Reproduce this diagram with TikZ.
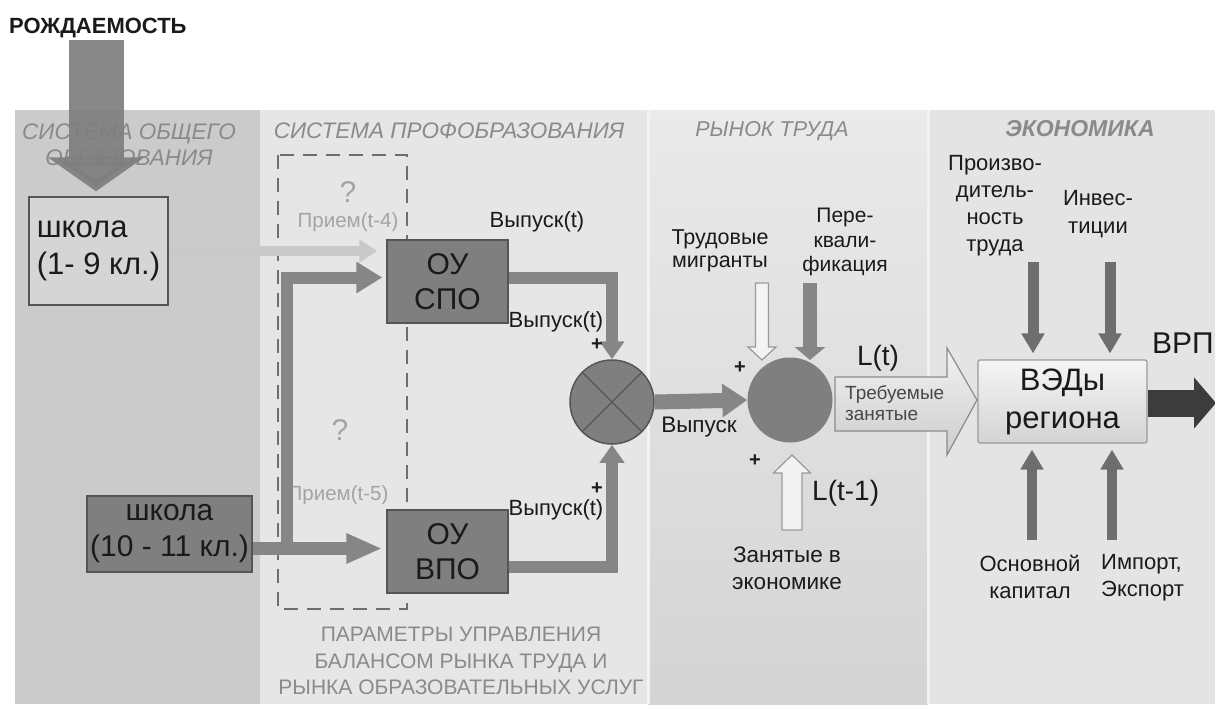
\documentclass[tikz,border=0pt]{standalone}
\usepackage{fontspec}
\setmainfont{Liberation Sans}
\usetikzlibrary{arrows.meta,calc}
\definecolor{bgone}{HTML}{CBCBCB}
\definecolor{bgtwo}{HTML}{E6E6E6}
\definecolor{bgthreetop}{HTML}{EAEAEA}
\definecolor{bgthreebot}{HTML}{D4D4D4}
\definecolor{bgfour}{HTML}{E4E4E4}
\definecolor{sepcol}{HTML}{F2F2F2}
\definecolor{ttlgray}{HTML}{8A8A8A}
\definecolor{qgray}{HTML}{A4A4A4}
\definecolor{midgray}{HTML}{868686}
\definecolor{boxgray}{HTML}{7F7F7F}
\definecolor{edgegray}{HTML}{555555}
\definecolor{lightarr}{HTML}{C9C9C9}
\definecolor{vedarr}{HTML}{6E6E6E}
\definecolor{dkarr}{HTML}{3C3C3C}
\definecolor{txt}{HTML}{1A1A1A}
\definecolor{hollowfill}{HTML}{F3F3F3}
\definecolor{hollowedge}{HTML}{9A9A9A}
\newcommand{\myfs}[2]{\fontsize{#1}{#2}\selectfont}
\begin{document}
\begin{tikzpicture}[x=1pt,y=-1pt,
  paneltitle/.style={font=\myfs{22.5}{26}\itshape, text=ttlgray, align=center, inner sep=0pt},
  lbl/.style={font=\myfs{21}{25}, text=txt, align=center, inner sep=0pt},
  smalllbl/.style={font=\myfs{22}{24}, text=txt, align=center, inner sep=0pt},
  qlbl/.style={font=\myfs{20.5}{24}, text=qgray, inner sep=0pt},
  pluslbl/.style={font=\bfseries\myfs{20}{24}, text=txt, inner sep=0pt},
  darkbox/.style={draw=edgegray, line width=1.5pt, fill=boxgray, font=\myfs{30}{35}, text=txt, align=center, inner sep=0pt},
  garrow/.style={draw=midgray, line width=12pt},
  hollow/.style={fill=hollowfill, draw=hollowedge, line width=1.2pt, line join=miter},
  vedin/.style={draw=vedarr, line width=11pt, -{Triangle[length=20pt,width=22pt]}}
]
\useasboundingbox (0,0) rectangle (1215,704);
\fill[white] (0,0) rectangle (1215,704);
% panels
\fill[bgone] (15,110) rectangle (260,704);
\fill[bgtwo] (260,110) rectangle (648,704);
\shade[top color=bgthreetop, bottom color=bgthreebot] (648,110) rectangle (928,704);
\fill[bgfour] (928,110) rectangle (1215,704);
\draw[sepcol, line width=3pt] (648,110) -- (648,704);
\draw[sepcol, line width=3pt] (928,110) -- (928,704);

% panel titles
\node[paneltitle] (t1) at (129,145) {СИСТЕМА ОБЩЕГО\\ОБРАЗОВАНИЯ};
\node[paneltitle] (t2) at (449,131) {СИСТЕМА ПРОФОБРАЗОВАНИЯ};
\node[paneltitle, font=\myfs{21.5}{26}\itshape] (t3) at (772,131) {РЫНОК ТРУДА};
\node[paneltitle, font=\myfs{23}{26}\bfseries\itshape] (t4) at (1080,129) {ЭКОНОМИКА};

% dashed box
\draw[draw=edgegray!85, line width=2.5pt, dash pattern=on 14pt off 9pt] (278,155) rectangle (407,609);
\node[qlbl, font=\myfs{30}{34}] (q1) at (348,192) {?};
\node[qlbl] (p4) at (348,222) {Прием(t-4)};
\node[qlbl, font=\myfs{30}{34}] (q2) at (340,430) {?};
\node[qlbl] (p5) at (338,495) {Прием(t-5)};

% title and birth arrow
\node[font=\bfseries\myfs{22}{24}, text=txt, anchor=west, inner sep=0pt] (rozh) at (9,28) {РОЖДАЕМОСТЬ};
\node[draw=edgegray, line width=1.5pt, fill=bgone!80!white, minimum width=139pt, minimum height=108pt, inner sep=0pt,
      font=\myfs{31}{37}, text=txt, align=left] (school1) at (98.5,251) {школа\\(1- 9 кл.)};
\coordinate (rzs) at (96,40);
\draw[draw=boxgray, opacity=0.93, line width=55pt, -{Triangle[length=34pt,width=95pt]}] (rzs) -- ([xshift=-2.5pt,yshift=5pt]school1.north);

% boxes
\node[darkbox, minimum width=165pt, minimum height=76pt, font=\myfs{30}{36}] (school2) at (169.5,534) {школа\\(10 - 11 кл.)};
\node[darkbox, minimum width=121pt, minimum height=83pt] (spo) at (447.5,281.5) {ОУ\\СПО};
\node[darkbox, minimum width=121pt, minimum height=83pt] (vpo) at (447.5,551.5) {ОУ\\ВПО};
\node[circle, draw=edgegray, line width=1.5pt, fill=boxgray, minimum size=84pt, inner sep=0pt] (x1) at (612,402) {};
\draw[edgegray, line width=1.2pt] (x1.north west) -- (x1.south east) (x1.north east) -- (x1.south west);
\node[circle, fill=boxgray, minimum size=85pt, inner sep=0pt] (c2) at (790,400) {};
\node[draw=hollowedge, line width=1.2pt, rounded corners=2pt, top color=white!96!black, bottom color=white!83!black,
      minimum width=169pt, minimum height=83pt, inner sep=0pt, font=\myfs{31}{38}, text=txt, align=center] (ved) at (1062.5,401.5) {ВЭДы\\региона};

% arrows in education system
\draw[draw=lightarr, line width=10pt, -{Triangle[length=18pt,width=22pt]}] (school1.east) -- ($(school1.east -| spo.west)+(-9,0)$);
\coordinate (lb) at (287,553);
\draw[garrow, -{Triangle[length=26pt,width=30pt]}] (lb) |- ($(spo.west)+(-4,-4)$);
\draw[garrow, line width=13pt, -{Triangle[length=36pt,width=28pt]}] ($(school2.east |- vpo.west)+(0,-3)$) -- ($(vpo.west)+(-4,-3)$);
\draw[garrow, -{Triangle[length=18pt,width=24pt]}] ($(spo.east)+(0,-4)$) -| (x1.north);
\draw[garrow, -{Triangle[length=18pt,width=24pt]}] ($(vpo.east)+(0,15)$) -| (x1.south);
\draw[garrow, line width=15pt, -{Triangle[length=25pt,width=32pt]}] (x1.east) -- (c2.west);

% labour market inputs
\coordinate (migtop) at (762,283);
\coordinate (migtip) at (762,360);
\draw[hollow] ($(migtop)+(-6.5,0)$) -- ($(migtop)+(6.5,0)$) -- ($(migtip)+(6.5,-13)$) -- ($(migtip)+(14,-13)$) -- (migtip)
   -- ($(migtip)+(-14,-13)$) -- ($(migtip)+(-6.5,-13)$) -- cycle;
\coordinate (kvtop) at (810,283);
\coordinate (kvtip) at (810,360);
\draw[garrow, line width=14pt, -{Triangle[length=13pt,width=30pt]}] (kvtop) -- (kvtip);
\coordinate (lbot) at (792,530);
\coordinate (ltip) at (792,455);
\draw[hollow] ($(lbot)+(-10,0)$) -- ($(lbot)+(10,0)$) -- ($(ltip)+(10,18)$) -- ($(ltip)+(18.5,18)$) -- (ltip)
   -- ($(ltip)+(-18.5,18)$) -- ($(ltip)+(-10,18)$) -- cycle;

% required employed arrow
\coordinate (reqt) at (977,400);
\draw[hollow, draw=hollowedge!90!black, top color=white!95!black, bottom color=white!80!black]
  (835,377) -- (947,377) -- (947,348) -- (reqt) -- (947,455) -- (947,431) -- (835,431) -- cycle;
\node[font=\myfs{19}{21}, text=txt!80, align=left, anchor=west, inner sep=0pt] (req) at (845,403) {Требуемые\\занятые};

% economy arrows
\coordinate (pt) at (1033,262);
\draw[vedin] (pt) -- ([yshift=6pt]ved.north -| pt);
\coordinate (it) at (1110,262);
\draw[vedin] (it) -- ([yshift=6pt]ved.north -| it);
\coordinate (kb) at (1032,540);
\draw[vedin, line width=10pt] (kb) -- ([yshift=-6pt]ved.south -| kb);
\coordinate (ib) at (1112,540);
\draw[vedin, line width=10pt] (ib) -- ([yshift=-6pt]ved.south -| ib);
\coordinate (vrpend) at (1216,403);
\draw[draw=dkarr, line width=27pt, -{Triangle[length=22pt,width=50pt]}] (ved.east |- vrpend) -- (vrpend);

% labels
\node[smalllbl] (v1) at (537,222) {Выпуск(t)};
\node[smalllbl] (v2) at (556,322) {Выпуск(t)};
\node[smalllbl] (v3) at (556,510) {Выпуск(t)};
\node[pluslbl] (pl1) at (597,345) {+};
\node[pluslbl] (pl2) at (597,489) {+};
\node[smalllbl, font=\myfs{22.5}{24}] (v4) at (699,427) {Выпуск};
\node[pluslbl] (pl3) at (740,368) {+};
\node[pluslbl] (pl4) at (755,461) {+};
\node[lbl, font=\myfs{21.5}{23}] (mig) at (720,251) {Трудовые\\мигранты};
\node[lbl, font=\myfs{21}{24.5}] (kv) at (845,242) {Пере-\\квали-\\фикация};
\node[font=\myfs{28}{32}, text=txt, inner sep=0pt] (lt) at (878,358) {L(t)};
\node[font=\myfs{28}{32}, text=txt, inner sep=0pt, anchor=west] (lt1) at (812,493) {L(t-1)};
\node[lbl, font=\myfs{22.5}{27}] (zan) at (787,568) {Занятые в\\экономике};
\node[lbl, font=\myfs{22}{27}] (prod) at (995,206) {Произво-\\дитель-\\ность\\труда};
\node[lbl, font=\myfs{22}{28}] (inv) at (1098,214) {Инвес-\\тиции};
\node[lbl, font=\myfs{22}{27}] (osn) at (1030,577) {Основной\\капитал};
\node[lbl, font=\myfs{22}{27}, align=left, anchor=west] (imp) at (1101,578) {Импорт,\\Экспорт};
\node[font=\myfs{30}{32}, text=txt, inner sep=0pt, anchor=west] (vrp) at (1152,343) {ВРП};
\node[font=\myfs{21}{26.5}, text=ttlgray, align=center, inner sep=0pt] (params) at (461,661)
  {ПАРАМЕТРЫ УПРАВЛЕНИЯ\\БАЛАНСОМ РЫНКА ТРУДА И\\РЫНКА ОБРАЗОВАТЕЛЬНЫХ УСЛУГ};
\end{tikzpicture}
\end{document}
